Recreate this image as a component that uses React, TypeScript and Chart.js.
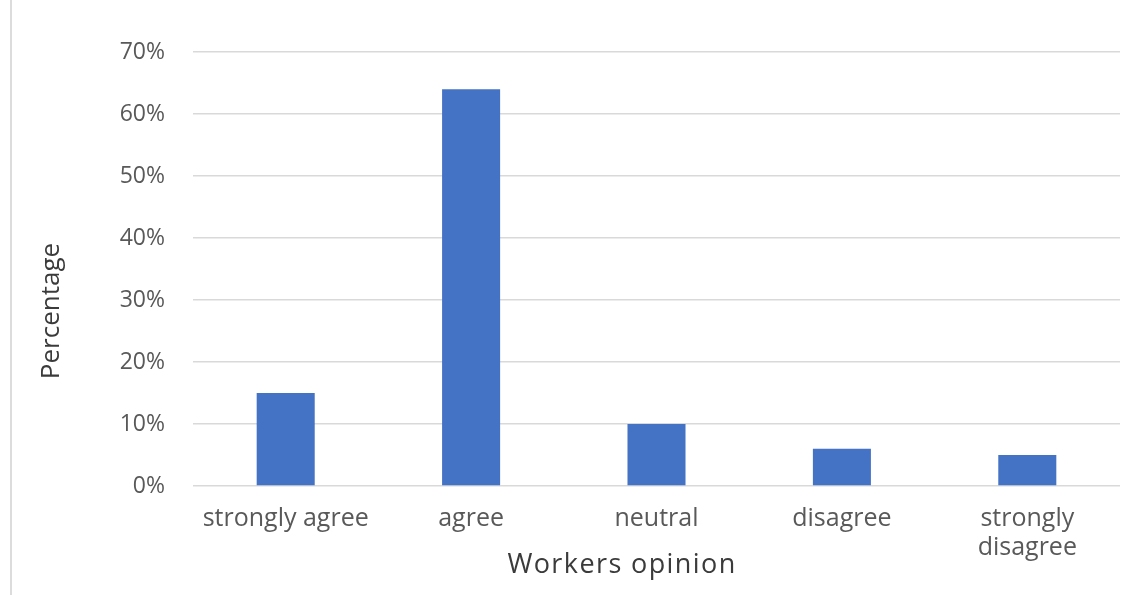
import React, { useEffect, useRef } from "react";
import { Chart, registerables } from "chart.js";

Chart.register(...registerables);

// Survey answers and share of workers giving each one
const categories: (string | string[])[] = [
  "strongly agree",
  "agree",
  "neutral",
  "disagree",
  ["strongly", "disagree"],
];
const percentages = [15, 64, 10, 6, 5];
const yMin = 0;
const yMax = 70;
const yStep = 10;

const xTitle = "Workers opinion";
const yTitle = "Percentage";

const FONT = "'Open Sans', 'DejaVu Sans', sans-serif";

// Axis titles drawn beside the plot area
const axisTitles = {
  id: "axisTitles",
  afterDraw(chart: Chart) {
    const ctx = chart.ctx as any;
    ctx.save();
    ctx.fillStyle = "#3b3b3b";
    ctx.textAlign = "center";
    ctx.textBaseline = "middle";
    ctx.font = `27px ${FONT}`;
    ctx.letterSpacing = "1.4px";
    ctx.fillText(xTitle, 622, 565);
    ctx.letterSpacing = "0px";
    ctx.font = `26px ${FONT}`;
    ctx.translate(52, 311);
    ctx.rotate(-Math.PI / 2);
    ctx.fillText(yTitle, 0, 0);
    ctx.restore();
  },
};

export default function App() {
  const canvasRef = useRef<HTMLCanvasElement | null>(null);

  useEffect(() => {
    document.body.style.margin = "0";
    const canvas = canvasRef.current;
    if (!canvas) return;
    const chart = new Chart(canvas, {
      type: "bar",
      data: {
        labels: categories,
        datasets: [
          {
            data: percentages,
            backgroundColor: "#4472C4",
            borderWidth: 0,
            barPercentage: 0.313,
            categoryPercentage: 1,
          },
        ],
      },
      plugins: [axisTitles],
      options: {
        animation: false,
        responsive: true,
        maintainAspectRatio: false,
        layout: { padding: { left: 30, top: 52, right: 26, bottom: 0 } },
        plugins: {
          legend: { display: false },
          tooltip: { enabled: false },
        },
        scales: {
          x: {
            grid: { display: false, drawTicks: false },
            border: { display: false },
            ticks: {
              color: "#595959",
              font: { family: FONT, size: 25, lineHeight: 1.16 },
              padding: 18,
              maxRotation: 0,
              autoSkip: false,
            },
            afterFit(scale: any) {
              scale.height = 109;
            },
          },
          y: {
            min: yMin,
            max: yMax,
            grid: { color: "#d9d9d9", lineWidth: 1.5, drawTicks: false },
            border: { display: false },
            ticks: {
              stepSize: yStep,
              color: "#595959",
              font: { family: FONT, size: 23 },
              padding: 28,
              callback: (v: any) => `${v}%`,
            },
            afterFit(scale: any) {
              scale.width = 163;
            },
          },
        },
      },
    });
    return () => chart.destroy();
  }, []);

  return (
    <div style={{ position: "relative", width: 1146, height: 595, background: "#fff" }}>
      <div
        style={{
          position: "absolute",
          left: 10,
          top: 0,
          width: 2,
          height: 595,
          background: "#dcdcdc",
        }}
      />
      <canvas ref={canvasRef} />
    </div>
  );
}
